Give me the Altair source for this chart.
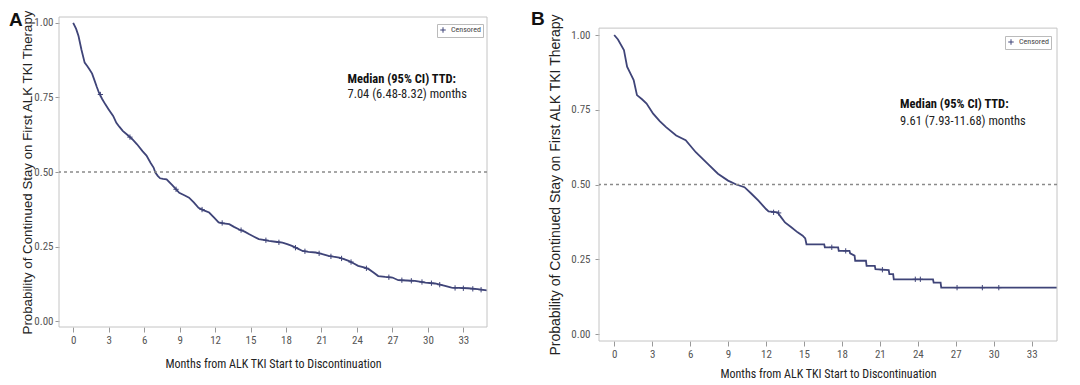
import altair as alt
import pandas as pd

# ---------------- data ----------------
A_time = [0, 0.25, 0.45, 0.7, 0.97, 1.2, 1.37, 1.6, 1.78, 2.0, 2.18, 2.45, 2.72, 3.0, 3.38,
          3.65, 3.9, 4.19, 4.6, 5.0, 5.4, 5.86, 6.2, 6.54, 6.8, 6.95, 7.15, 7.35, 7.6, 7.9,
          8.4, 8.97, 9.4, 9.8, 10.2, 10.6, 11.0, 11.5, 11.9, 12.3, 12.7, 13.2, 13.6, 14.0,
          14.5, 14.9, 15.3, 15.7, 16.1, 16.55, 17.1, 17.7, 18.1, 18.5, 19.0, 19.4, 19.9,
          20.5, 21.0, 21.6, 22.0, 22.5, 22.9, 23.3, 23.7, 24.1, 24.6, 25.0, 25.4, 25.8,
          26.4, 27.0, 27.5, 28.2, 28.9, 29.8, 30.6, 31.45, 32.0, 32.6, 33.4, 34.2, 35.0]
A_surv = [1.0, 0.98, 0.956, 0.91, 0.867, 0.855, 0.845, 0.83, 0.81, 0.785, 0.766, 0.745, 0.727,
          0.71, 0.688, 0.665, 0.652, 0.638, 0.624, 0.61, 0.593, 0.57, 0.555, 0.531, 0.515,
          0.498, 0.487, 0.479, 0.477, 0.475, 0.455, 0.43, 0.422, 0.414, 0.398, 0.38, 0.372,
          0.364, 0.348, 0.331, 0.328, 0.325, 0.316, 0.308, 0.3, 0.291, 0.283, 0.275, 0.272,
          0.269, 0.266, 0.263, 0.258, 0.252, 0.243, 0.235, 0.232, 0.23, 0.225, 0.219, 0.216,
          0.213, 0.208, 0.202, 0.194, 0.185, 0.18, 0.174, 0.163, 0.151, 0.148, 0.146, 0.137,
          0.136, 0.135, 0.129, 0.126, 0.118, 0.112, 0.111, 0.11, 0.107, 0.103]
A_cens_time = [2.3, 4.8, 8.7, 10.9, 12.6, 14.2, 16.3, 17.4, 18.8, 19.6, 20.8, 21.8, 22.7,
               23.5, 24.8, 26.7, 27.8, 28.6, 29.5, 30.3, 31.0, 32.3, 33.0, 33.8, 34.5]
A_cens_surv = [0.76, 0.617, 0.442, 0.374, 0.329, 0.305, 0.271, 0.264, 0.246, 0.234, 0.227,
               0.217, 0.21, 0.198, 0.177, 0.147, 0.137, 0.135, 0.131, 0.127, 0.122, 0.111,
               0.11, 0.108, 0.105]

B_time = [0, 0.3, 0.77, 1.02, 1.3, 1.54, 1.8, 2.2, 2.56, 3.08, 3.6, 4.1, 4.9, 5.65, 6.45,
          7.4, 8.2, 9.0, 9.65, 10.3, 10.85, 11.4, 12.0, 12.2, 12.9, 13.2, 13.5, 14.0, 14.5,
          14.9, 15.1, 15.2, 16.6, 16.65, 17.7, 17.75, 18.6, 18.65, 19.0, 19.05, 19.9, 19.95,
          20.6, 20.65, 21.7, 21.75, 22.05, 22.1, 25.2, 25.25, 25.8, 25.85, 35.0]
B_surv = [1.0, 0.985, 0.95, 0.894, 0.87, 0.849, 0.799, 0.785, 0.771, 0.737, 0.712, 0.692,
          0.664, 0.648, 0.608, 0.569, 0.536, 0.513, 0.5, 0.491, 0.469, 0.446, 0.418, 0.41,
          0.407, 0.39, 0.373, 0.357, 0.34, 0.329, 0.32, 0.3, 0.3, 0.29, 0.29, 0.278, 0.278,
          0.27, 0.262, 0.245, 0.245, 0.228, 0.228, 0.217, 0.214, 0.2, 0.2, 0.183, 0.183,
          0.172, 0.172, 0.155, 0.155]
B_cens_time = [12.6, 13.0, 17.2, 18.3, 21.2, 23.8, 24.2, 27.1, 29.1, 30.4]
B_cens_surv = [0.407, 0.405, 0.29, 0.278, 0.215, 0.183, 0.183, 0.155, 0.155, 0.155]

x_ticks = [0, 3, 6, 9, 12, 15, 18, 21, 24, 27, 30, 33]
y_ticks = [0.0, 0.25, 0.5, 0.75, 1.0]
median_ref = [0.5]
censor_label = ["Censored"]

X_TITLE = "Months from ALK TKI Start to Discontinuation"
Y_TITLE = "Probability of Continued Stay on First ALK TKI Therapy"
ANN_HEAD = "Median (95% CI) TTD:"
A_VALUE = "7.04 (6.48-8.32) months"
B_VALUE = "9.61 (7.93-11.68) months"

# ---------------- styling ----------------
NARROW = "Roboto Condensed"
REG = "Liberation Sans"
CURVE = "#3f4478"
FRAME = "#c4c4c4"
PLUS = "M-1,0H1M0,-1V1"


def panel(times, surv, ctimes, csurv, value_text, letter, letter_xy, legend_xy,
          w, h, xdom, ydom, frame_top, ann_x, ann_y1, ann_y2,
          xlab_pad, xtitle_pad, ylab_pad, ytitle_x, ytitle_size):
    curve_df = pd.DataFrame({"t": times, "s": surv})
    cens_df = pd.DataFrame({"t": ctimes, "s": csurv,
                            "k": censor_label * len(ctimes)})
    frame_top_px = (ydom[1] - frame_top) / (ydom[1] - ydom[0]) * h
    xs = alt.Scale(domain=xdom, nice=False, zero=False)
    ys = alt.Scale(domain=ydom, nice=False, zero=False)
    xaxis = alt.Axis(values=x_ticks, title=X_TITLE, grid=False, labelOverlap=False,
                     domain=False,
                     labelFont=NARROW, labelFontSize=11, labelColor="#555",
                     labelPadding=xlab_pad, labelFlush=False,
                     titleFont=NARROW, titleFontSize=12, titleFontWeight="normal",
                     titleColor="#222", titlePadding=xtitle_pad,
                     tickSize=5, tickColor="#999")
    yaxis = alt.Axis(values=y_ticks, format=".2f", title=Y_TITLE, grid=False,
                     labelOverlap=False, domain=False,
                     labelFont=NARROW, labelFontSize=11, labelColor="#555",
                     labelPadding=ylab_pad, labelFlush=False,
                     titleFont=REG, titleFontSize=ytitle_size, titleFontWeight="normal",
                     titleColor="#222", titleX=ytitle_x,
                     titleY=(frame_top_px + h) / 2, titleBaseline="alphabetic",
                     tickSize=4, tickColor="#999")
    X = alt.X("t:Q", scale=xs, axis=xaxis)
    Y = alt.Y("s:Q", scale=ys, axis=yaxis)

    frame_df = pd.DataFrame({"t": [xdom[0]], "t2": [xdom[1]],
                             "s": [ydom[0]], "s2": [frame_top]})
    frame = alt.Chart(frame_df).mark_rect(fillOpacity=0, stroke=FRAME, strokeWidth=1).encode(
        x=X, x2="t2:Q", y=Y, y2="s2:Q")
    line = alt.Chart(curve_df).mark_line(color=CURVE, strokeWidth=1.8, clip=True).encode(
        x=X, y=Y)
    ref = alt.Chart(pd.DataFrame({"s": median_ref})).mark_rule(
        color="#8a8a8a", strokeDash=[3, 3], strokeWidth=1.4).encode(y=Y)
    cens = alt.Chart(cens_df).mark_point(
        shape=PLUS, filled=False, size=28, strokeWidth=1, opacity=1, clip=True).encode(
        x=X, y=Y,
        color=alt.Color("k:N", scale=alt.Scale(domain=censor_label, range=[CURVE]),
                        legend=alt.Legend(title=None, orient="none",
                                          legendX=legend_xy[0], legendY=legend_xy[1],
                                          strokeColor="#bbbbbb", fillColor="white",
                                          padding=2, labelFont=NARROW, labelFontSize=8,
                                          labelColor="#444", symbolType=PLUS,
                                          symbolSize=30, symbolStrokeWidth=1,
                                          symbolStrokeColor="#999",
                                          symbolFillColor="transparent")),
    )
    ann1 = alt.Chart(pd.DataFrame({"t": [ann_x], "s": [ann_y1], "txt": [ANN_HEAD]})).mark_text(
        align="left", baseline="middle", font=NARROW, fontSize=12.5, fontWeight="bold",
        color="#111").encode(x=X, y=Y, text="txt:N")
    ann2 = alt.Chart(pd.DataFrame({"t": [ann_x], "s": [ann_y2], "txt": [value_text]})).mark_text(
        align="left", baseline="middle", font=NARROW, fontSize=12.5, fontWeight="normal",
        color="#222").encode(x=X, y=Y, text="txt:N")
    lab = alt.Chart(pd.DataFrame({"txt": [letter]})).mark_text(
        align="left", baseline="middle", font=REG, fontSize=19, fontWeight="bold",
        color="#111").encode(x=alt.value(letter_xy[0]), y=alt.value(letter_xy[1]), text="txt:N")
    return alt.layer(line, frame, ref, cens, ann1, ann2, lab).properties(width=w, height=h)


panelA = panel(A_time, A_surv, A_cens_time, A_cens_surv, A_VALUE, "A", (-50, 3), (378, 7),
               428, 310, [-1.2, 35], [-0.02, 1.02], 1.02, 23.2, 0.812, 0.762,
               2.5, 12.5, 2, -28, 13.3)
panelB = panel(B_time, B_surv, B_cens_time, B_cens_surv, B_VALUE, "B", (-68, 2), (406, 19),
               458, 324, [-1.2, 35], [-0.0234, 1.0602], 1.023, 22.6, 0.768, 0.711,
               2.5, 8.5, 5, -40, 14)

chart = (
    alt.hconcat(panelA, panelB, spacing=41)
    .resolve_scale(color="independent", x="independent", y="independent")
    .resolve_legend(color="independent")
    .properties(padding={"left": 0, "top": 0, "right": 0, "bottom": 0}, background="white")
    .configure_view(stroke="transparent")
    .configure_axis(labelOverlap=False)
)

chart.save("out.html", embed_options={"renderer": "svg", "actions": False})
